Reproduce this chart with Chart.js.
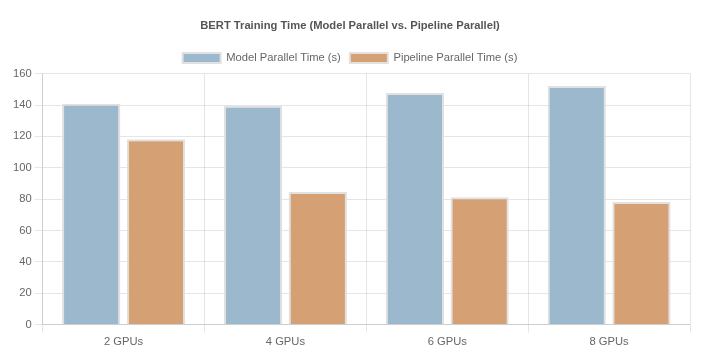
<!DOCTYPE html>
<html>
<head>
<meta charset="utf-8">
<script src="https://cdn.jsdelivr.net/npm/chart.js@4"></script>
<style>
html,body{margin:0;padding:0;background:#fff;}
#wrap{width:704px;height:360px;position:relative;}
</style>
</head>
<body>
<div id="wrap"><canvas id="c"></canvas></div>
<script>
const categories = ['2 GPUs', '4 GPUs', '6 GPUs', '8 GPUs'];
const modelParallel = [140.8, 139.5, 147.6, 152.1];
const pipelineParallel = [118.2, 84.6, 81.2, 78.2];
const seriesNames = ['Model Parallel Time (s)', 'Pipeline Parallel Time (s)'];

Chart.defaults.font.family = "'Liberation Sans', Arial, sans-serif";
Chart.defaults.color = '#666';
const FS = 11.2;

new Chart(document.getElementById('c'), {
  type: 'bar',
  data: {
    labels: categories,
    datasets: [
      { label: seriesNames[0], data: modelParallel, backgroundColor: '#9bb8cc', borderColor: 'rgba(225,225,225,1)', borderWidth: 2 },
      { label: seriesNames[1], data: pipelineParallel, backgroundColor: '#d5a073', borderColor: 'rgba(225,225,225,1)', borderWidth: 2 }
    ]
  },
  options: {
    responsive: true,
    maintainAspectRatio: false,
    animation: false,
    layout: { padding: { left: 10, right: 14, top: 6, bottom: 8 } },
    plugins: {
      title: { display: true, text: 'BERT Training Time (Model Parallel vs. Pipeline Parallel)', font: { size: FS, weight: 'bold' }, color: '#555', padding: { top: 13, bottom: 11 } },
      legend: { labels: { boxWidth: 38, boxHeight: 10, padding: 9, font: { size: FS }, color: '#666' } }
    },
    scales: {
      x: { grid: { color: 'rgba(0,0,0,0.1)' }, ticks: { font: { size: FS } } },
      y: { min: 0, max: 160, ticks: { stepSize: 20, font: { size: FS } }, grid: { color: 'rgba(0,0,0,0.1)' } }
    }
  }
});
</script>
</body>
</html>
